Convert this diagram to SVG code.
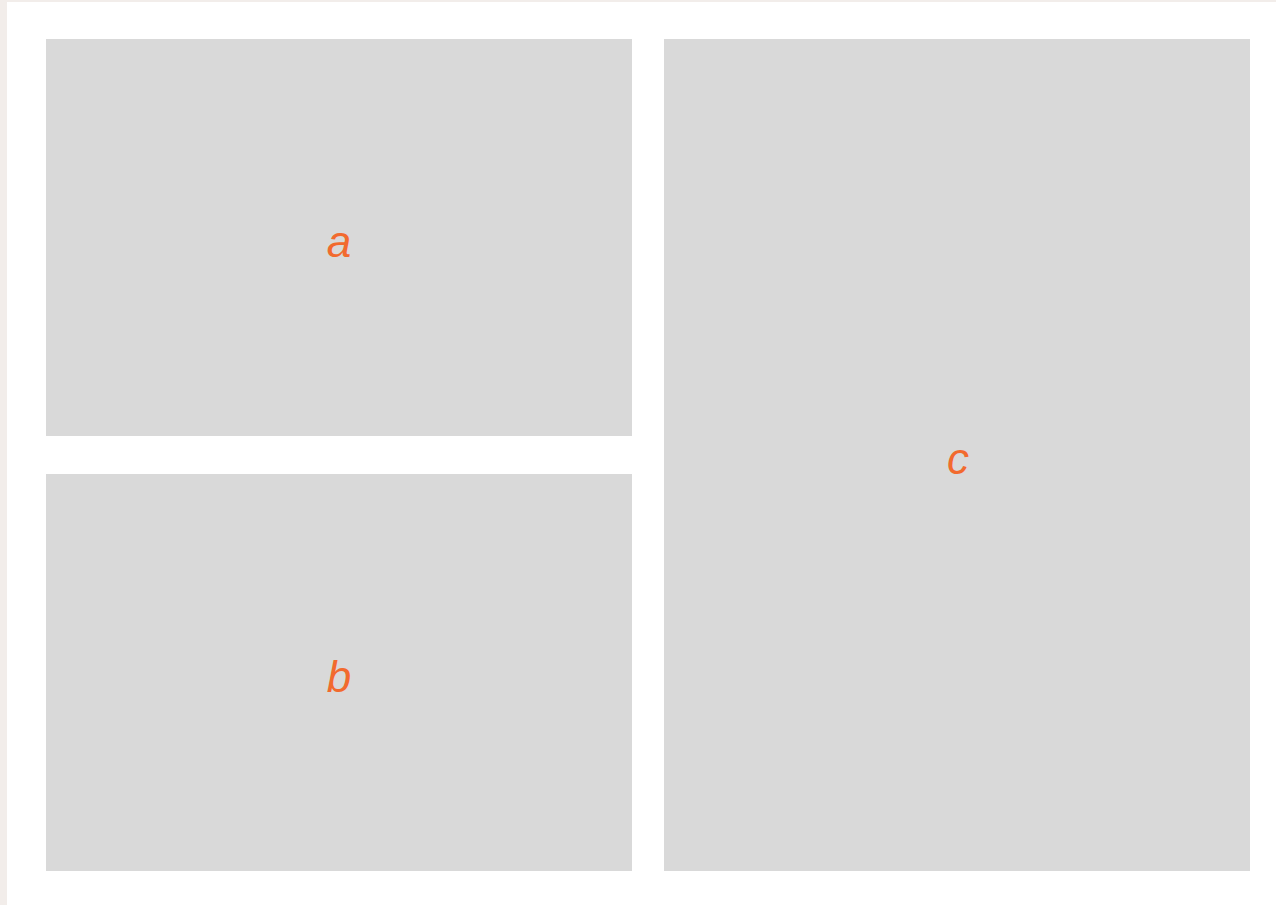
<svg xmlns="http://www.w3.org/2000/svg" width="1276" height="905" viewBox="0 0 1276 905">
<style>
.panel{fill:#d9d9d9}
.lbl{font-family:"Liberation Sans",Arial,sans-serif;font-style:italic;font-size:44px;fill:#f26a2e;text-anchor:middle}
</style>
<rect x="0" y="0" width="1276" height="905" fill="#f2edea"/>
<rect x="7" y="2" width="1269" height="903" fill="#ffffff"/>
<g id="node-a"><rect class="panel" x="46" y="39" width="586" height="397"/><text class="lbl" x="339" y="257">a</text></g>
<g id="node-b"><rect class="panel" x="46" y="474" width="586" height="397"/><text class="lbl" x="339" y="692">b</text></g>
<g id="node-c"><rect class="panel" x="664" y="39" width="586" height="832"/><text class="lbl" x="958" y="474">c</text></g>
<g id="connectors"></g>
</svg>
